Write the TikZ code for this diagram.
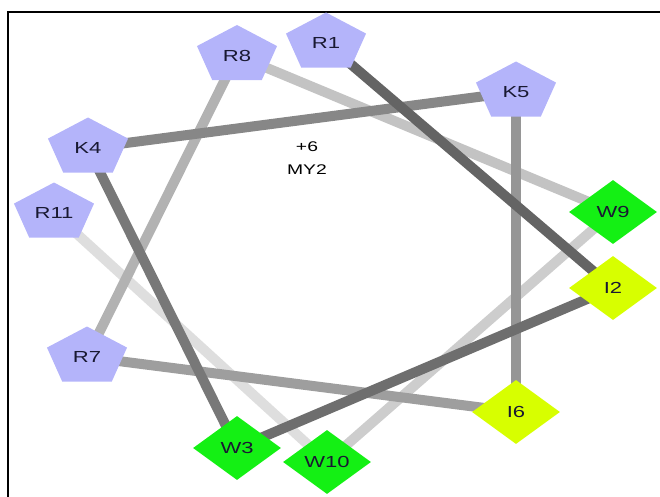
\documentclass[tikz,border=0pt]{standalone}
\usepackage{fontspec}
\setmainfont{Liberation Sans}
\usetikzlibrary{shapes.geometric,backgrounds}
\definecolor{pentc}{RGB}{180,180,250}
\definecolor{greenc}{RGB}{20,240,20}
\definecolor{yellc}{RGB}{215,255,0}
\definecolor{labc}{RGB}{25,25,50}
\begin{document}
\begin{tikzpicture}[x=1pt,y=-1pt,
  pent/.style={regular polygon, regular polygon sides=5, minimum size=61pt, inner sep=0pt,
    fill=pentc, xscale=1.38, transform shape, font=\fontsize{16}{16}\selectfont, text=labc},
  dia/.style={diamond, minimum width=64pt, minimum height=64pt, aspect=1, inner sep=0pt,
    xscale=1.375, transform shape, font=\fontsize{16}{16}\selectfont, text=labc},
  grn/.style={dia, fill=greenc},
  yel/.style={dia, fill=yellc},
  link/.style={line width=10pt}]
\useasboundingbox (0,0) rectangle (660,497);
% frame
\draw[line width=2pt] (8,497) -- (8,12) -- (660,12);
% nodes
\node[pent] (R1) at (326,43) {R1};
\node[pent] (R8) at (237,55.5) {R8};
\node[pent] (K5) at (516,92) {K5};
\node[pent] (K4) at (88,148) {K4};
\node[pent] (R11) at (54,213) {R11};
\node[pent] (R7) at (87,357) {R7};
\node[grn] (W9) at (613,212) {W9};
\node[yel] (I2) at (613,288) {I2};
\node[yel] (I6) at (516,412) {I6};
\node[grn] (W3) at (237,448) {W3};
\node[grn] (W10) at (327,462) {W10};
\node[font=\fontsize{14}{14}\selectfont, xscale=1.38, transform shape] (t1) at (307,147) {+6};
\node[font=\fontsize{14}{14}\selectfont, xscale=1.38, transform shape] (t2) at (307,170) {MY2};
% connectors
\begin{scope}[on background layer]
\draw[link, draw={rgb,255:red,222;green,222;blue,222}] (W10.center) -- (R11.center);
\draw[link, draw={rgb,255:red,205;green,205;blue,205}] (W9.center) -- (W10.center);
\draw[link, draw={rgb,255:red,195;green,195;blue,195}] (R8.center) -- (W9.center);
\draw[link, draw={rgb,255:red,178;green,178;blue,178}] (R7.center) -- (R8.center);
\draw[link, draw={rgb,255:red,158;green,158;blue,158}] (I6.center) -- (R7.center);
\draw[link, draw={rgb,255:red,150;green,150;blue,150}] (K5.center) -- (I6.center);
\draw[link, draw={rgb,255:red,135;green,135;blue,135}] (K4.center) -- (K5.center);
\draw[link, draw={rgb,255:red,120;green,120;blue,120}] (W3.center) -- (K4.center);
\draw[link, draw={rgb,255:red,110;green,110;blue,110}] (I2.center) -- (W3.center);
\draw[link, draw={rgb,255:red,100;green,100;blue,100}] (R1.center) -- (I2.center);
\end{scope}
\end{tikzpicture}
\end{document}
